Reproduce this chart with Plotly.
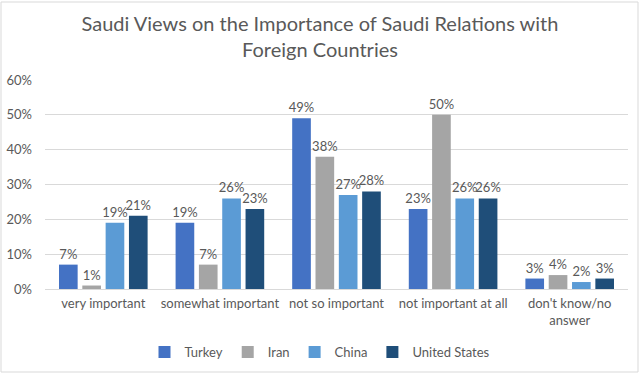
import plotly.graph_objects as go

categories = ["very important", "somewhat important", "not so important",
              "not important at all", "don't know/no<br>answer"]
series_names = ["Turkey", "Iran", "China", "United States"]
turkey = [7, 19, 49, 23, 3]
iran = [1, 7, 38, 50, 4]
china = [19, 26, 27, 26, 2]
united_states = [21, 23, 28, 26, 3]
colors = ["#4472C4", "#A5A5A5", "#5B9BD5", "#1F4E79"]
tick_vals = [0, 10, 20, 30, 40, 50, 60]
tick_text = ["0%", "10%", "20%", "30%", "40%", "50%", "60%"]

FONT = "Lato, Open Sans, sans-serif"
fig = go.Figure()
for name, vals, col in zip(series_names, [turkey, iran, china, united_states], colors):
    fig.add_trace(go.Bar(
        x=categories, y=vals, name=name, marker_color=col,
        marker_line_width=0,
        text=[f"{v}%" for v in vals], textposition="outside",
        textfont=dict(size=13, color="#595959", family=FONT),
        constraintext="none",
        cliponaxis=False,
    ))

fig.update_layout(
    width=640, height=374,
    margin=dict(l=45, r=12, t=80, b=85, autoexpand=False),
    paper_bgcolor="white", plot_bgcolor="white",
    barmode="group", bargap=0.2, bargroupgap=0.2,
    title=dict(text="Saudi Views on the Importance of Saudi Relations with<br>Foreign Countries",
               x=0.5, xanchor="center", y=0.916, yanchor="top",
               font=dict(size=20, color="#595959", family=FONT)),
    font=dict(family=FONT, color="#595959", size=13),
    showlegend=True,
    uniformtext=dict(mode=False),
    legend=dict(orientation="h", x=0.5, xanchor="center", xref="container",
                y=22/374, yanchor="middle", yref="container",
                font=dict(size=13, color="#595959", family=FONT),
                traceorder="normal", itemwidth=30),
    yaxis=dict(range=[0, 60], tickvals=tick_vals, ticktext=tick_text,
               showgrid=True, gridcolor="#D9D9D9", gridwidth=1,
               zeroline=False, showline=False, automargin=False,
               tickfont=dict(size=13, color="#595959", family=FONT),
               ticks="", ticklabelstandoff=12),
    xaxis=dict(showline=True, linecolor="#D9D9D9", linewidth=1, ticks="",
               automargin=False, ticklabelstandoff=2,
               tickfont=dict(size=13, color="#595959", family=FONT)),
    shapes=[dict(type="rect", xref="paper", yref="paper",
                 x0=-44/583, x1=1 + 10/583, y0=-83/209, y1=1 + 78/209,
                 line=dict(color="#D9D9D9", width=1), fillcolor="rgba(0,0,0,0)")],
)

fig.write_html("out.html", config={"displayModeBar": False},
               post_script="document.body.style.margin='0';document.body.style.overflow='hidden';")
